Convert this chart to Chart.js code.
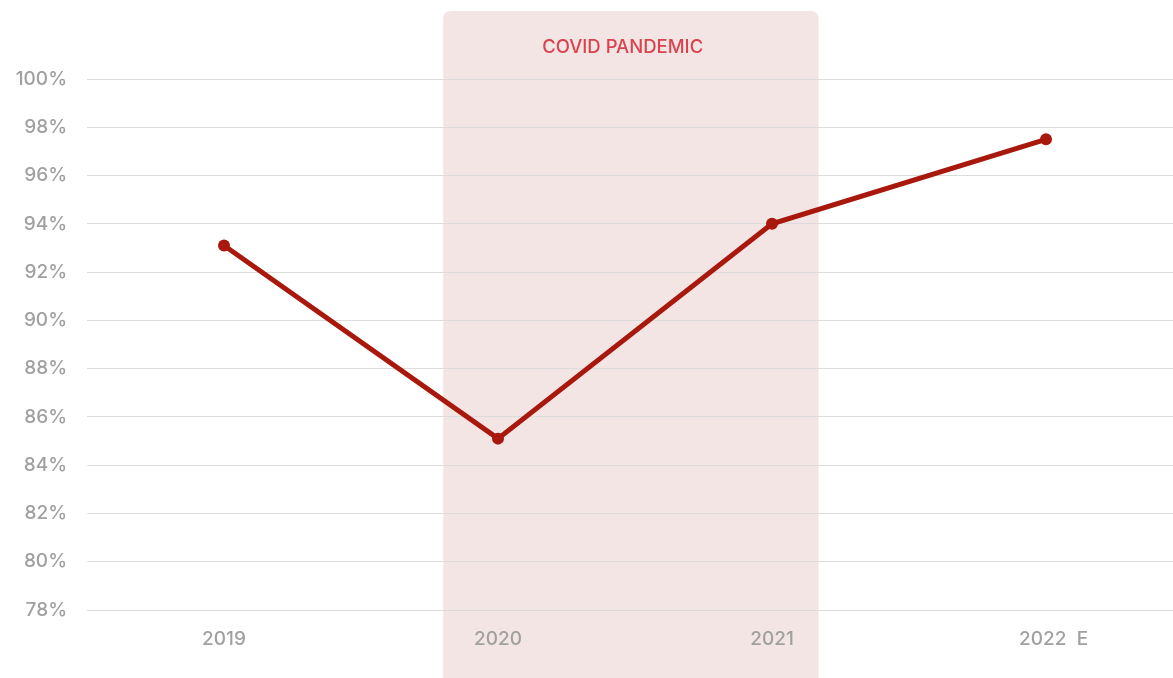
<!DOCTYPE html>
<html><head><meta charset="utf-8">
<script src="https://cdn.jsdelivr.net/npm/chart.js@4/dist/chart.umd.min.js"></script>
<style>
html,body{margin:0;padding:0;background:#fff;overflow:hidden;}
canvas{display:block;}
</style></head><body>
<canvas id="c" width="1189" height="678" style="width:1189px;height:678px"></canvas>
<script>
const categories = ['2019', '2020', '2021', '   2022  E'];
const occupancy = [93.1, 85.1, 94.0, 97.5];
const yTicks = [78, 80, 82, 84, 86, 88, 90, 92, 94, 96, 98, 100];
const bandLabel = 'COVID PANDEMIC';
const bandRange = [0.8, 2.17];
const bandLabelAt = 1.455;

const FONT = 'Inter, "Noto Sans", sans-serif';

const bandPlugin = {
  id: 'band',
  beforeDraw(chart) {
    const {ctx, scales: {x}} = chart;
    const left = x.getPixelForValue(bandRange[0]);
    const right = x.getPixelForValue(bandRange[1]);
    const top = 11, bottom = chart.height + 10, r = 8;
    ctx.save();
    ctx.fillStyle = '#f4e5e5';
    ctx.beginPath();
    ctx.moveTo(left, bottom);
    ctx.lineTo(left, top + r);
    ctx.quadraticCurveTo(left, top, left + r, top);
    ctx.lineTo(right - r, top);
    ctx.quadraticCurveTo(right, top, right, top + r);
    ctx.lineTo(right, bottom);
    ctx.closePath();
    ctx.fill();
    ctx.fillStyle = '#d8434f';
    ctx.font = '500 18.5px ' + FONT;
    ctx.textAlign = 'center';
    ctx.textBaseline = 'middle';
    ctx.fillText(bandLabel, x.getPixelForValue(bandLabelAt), 47);
    ctx.restore();
  }
};

new Chart(document.getElementById('c'), {
  type: 'line',
  data: {
    labels: categories,
    datasets: [{
      data: occupancy,
      borderColor: '#a8180c',
      backgroundColor: '#a8180c',
      borderWidth: 5,
      pointRadius: 6,
      pointHoverRadius: 6,
      pointBackgroundColor: '#a8180c',
      pointBorderWidth: 0,
      tension: 0,
      fill: false
    }]
  },
  options: {
    responsive: false,
    devicePixelRatio: 1,
    animation: false,
    layout: {padding: {top: 79, right: 0, left: 0, bottom: 0}},
    plugins: {legend: {display: false}, tooltip: {enabled: false}},
    scales: {
      x: {
        offset: true,
        grid: {display: false, drawTicks: false},
        border: {display: false},
        ticks: {color: '#a0a0a0', font: {family: FONT, size: 19, weight: '500'}, padding: 18},
        afterFit(s) { s.height = 68; }
      },
      y: {
        min: 78, max: 100,
        afterBuildTicks(s) { s.ticks = yTicks.map(v => ({value: v})); },
        grid: {color: '#dcdcdc', lineWidth: 1, drawTicks: false},
        border: {display: false},
        ticks: {color: '#a0a0a0', font: {family: FONT, size: 19, weight: '500'}, padding: 20,
          callback: v => v + '%'},
        afterFit(s) { s.width = 87; }
      }
    }
  },
  plugins: [bandPlugin]
});
</script>
</body></html>
